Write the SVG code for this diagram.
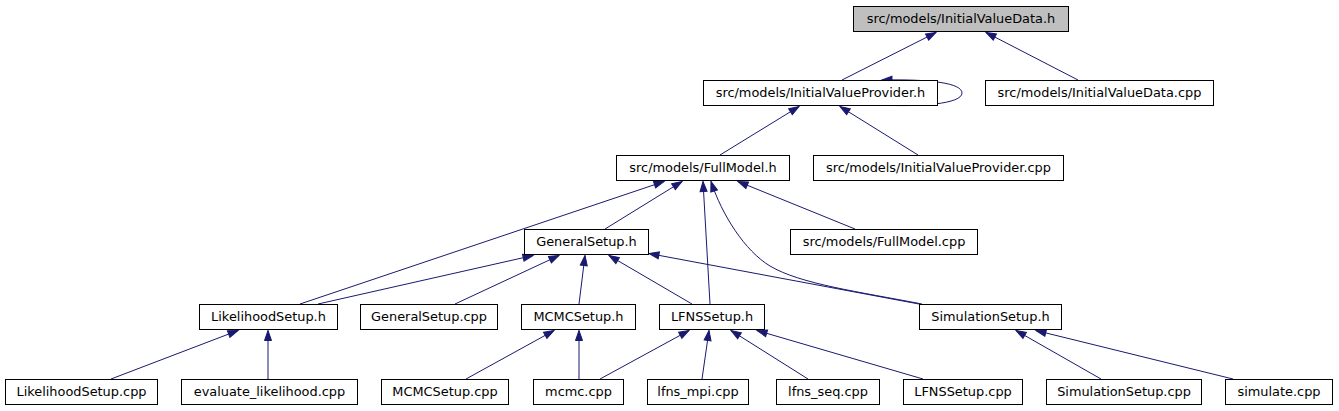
<svg xmlns="http://www.w3.org/2000/svg" width="1339" height="411" viewBox="0 0 1339 411">
<style>
.n rect{fill:#fff;stroke:#000;stroke-width:1}
.n.root rect{fill:#bfbfbf}
.n text{font-family:"DejaVu Sans","Liberation Sans",sans-serif;font-size:12.9px;text-anchor:middle;fill:#000}
.e path{fill:none;stroke:#191970;stroke-width:1;marker-end:url(#ah)}
</style>
<defs>
<marker id="ah" markerUnits="userSpaceOnUse" markerWidth="12" markerHeight="9" refX="10" refY="3.5" orient="auto" overflow="visible">
<path d="M0,0 L10,3.5 L0,7 z" fill="#191970" stroke="#191970" stroke-width="1"/>
</marker>
</defs>
<rect width="1339" height="411" fill="#fff"/>
<g id="connectors" class="e">
<path d="M842,80 L936,32.5"/>
<path d="M1078,80 L986,32.5"/>
<path d="M878,105 C920,107 962,104 962,93 C962,83 930,79 882,80"/>
<path d="M720,155 L799,106.5"/>
<path d="M918,155 L840,106.5"/>
<path d="M300,304 L664,181.5"/>
<path d="M605,229 L682,181.5"/>
<path d="M710,304 L703,181.5"/>
<path d="M922,304 C860,292 800,284 770,266 C745,251 722,215 711,181.5"/>
<path d="M855,229 L738,181.5"/>
<path d="M318,304 L533,255.5"/>
<path d="M455,304 L559,255.5"/>
<path d="M579,304 L585,255.5"/>
<path d="M692,304 L609,255.5"/>
<path d="M919,304 L649,253.5"/>
<path d="M111,379 L238,330.5"/>
<path d="M268,379 L268,330.5"/>
<path d="M466,379 L554,330.5"/>
<path d="M579,379 L579,330.5"/>
<path d="M600,379 L689,330.5"/>
<path d="M702,379 L709,330.5"/>
<path d="M808,379 L731,330.5"/>
<path d="M923,379 L757,330.5"/>
<path d="M1101,379 L1016,330.5"/>
<path d="M1233,379 L1036,330.5"/>
</g>
<g id="n_InitialValueData_h" class="n root"><rect x="853.5" y="6.5" width="215" height="25"/><text x="961" y="23">src/models/InitialValueData.h</text></g>
<g id="n_InitialValueProvider_h" class="n"><rect x="703.5" y="80.5" width="234" height="25"/><text x="820.5" y="97">src/models/InitialValueProvider.h</text></g>
<g id="n_InitialValueData_cpp" class="n"><rect x="985.5" y="80.5" width="228" height="25"/><text x="1099.5" y="97">src/models/InitialValueData.cpp</text></g>
<g id="n_FullModel_h" class="n"><rect x="616.5" y="155.5" width="173" height="25"/><text x="703" y="172">src/models/FullModel.h</text></g>
<g id="n_InitialValueProvider_cpp" class="n"><rect x="813.5" y="155.5" width="250" height="25"/><text x="938.5" y="172">src/models/InitialValueProvider.cpp</text></g>
<g id="n_GeneralSetup_h" class="n"><rect x="524.5" y="229.5" width="124" height="25"/><text x="586.5" y="246">GeneralSetup.h</text></g>
<g id="n_FullModel_cpp" class="n"><rect x="790.5" y="229.5" width="187" height="25"/><text x="884" y="246">src/models/FullModel.cpp</text></g>
<g id="n_LikelihoodSetup_h" class="n"><rect x="199.5" y="304.5" width="138" height="25"/><text x="268.5" y="321">LikelihoodSetup.h</text></g>
<g id="n_GeneralSetup_cpp" class="n"><rect x="360.5" y="304.5" width="137" height="25"/><text x="429" y="321">GeneralSetup.cpp</text></g>
<g id="n_MCMCSetup_h" class="n"><rect x="521.5" y="304.5" width="114" height="25"/><text x="578.5" y="321">MCMCSetup.h</text></g>
<g id="n_LFNSSetup_h" class="n"><rect x="659.5" y="304.5" width="105" height="25"/><text x="712" y="321">LFNSSetup.h</text></g>
<g id="n_SimulationSetup_h" class="n"><rect x="919.5" y="304.5" width="142" height="25"/><text x="990.5" y="321">SimulationSetup.h</text></g>
<g id="n_LikelihoodSetup_cpp" class="n"><rect x="5.5" y="379.5" width="152" height="25"/><text x="81.5" y="396">LikelihoodSetup.cpp</text></g>
<g id="n_evaluate_likelihood_cpp" class="n"><rect x="181.5" y="379.5" width="176" height="25"/><text x="269.5" y="396">evaluate_likelihood.cpp</text></g>
<g id="n_MCMCSetup_cpp" class="n"><rect x="381.5" y="379.5" width="127" height="25"/><text x="445" y="396">MCMCSetup.cpp</text></g>
<g id="n_mcmc_cpp" class="n"><rect x="533.5" y="379.5" width="90" height="25"/><text x="578.5" y="396">mcmc.cpp</text></g>
<g id="n_lfns_mpi_cpp" class="n"><rect x="647.5" y="379.5" width="101" height="25"/><text x="698" y="396">lfns_mpi.cpp</text></g>
<g id="n_lfns_seq_cpp" class="n"><rect x="776.5" y="379.5" width="103" height="25"/><text x="828" y="396">lfns_seq.cpp</text></g>
<g id="n_LFNSSetup_cpp" class="n"><rect x="903.5" y="379.5" width="119" height="25"/><text x="963" y="396">LFNSSetup.cpp</text></g>
<g id="n_SimulationSetup_cpp" class="n"><rect x="1046.5" y="379.5" width="155" height="25"/><text x="1124" y="396">SimulationSetup.cpp</text></g>
<g id="n_simulate_cpp" class="n"><rect x="1225.5" y="379.5" width="107" height="25"/><text x="1279" y="396">simulate.cpp</text></g>
</svg>
